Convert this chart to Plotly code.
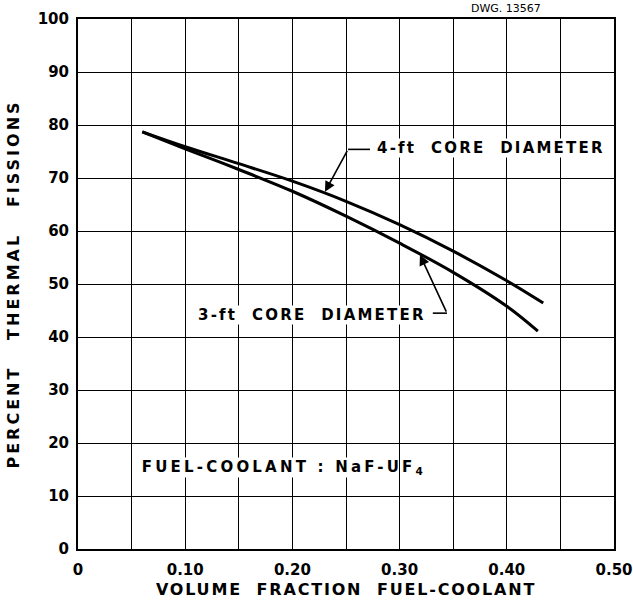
import plotly.graph_objects as go

# ---- data ----
x_4ft = [0.06, 0.10, 0.15, 0.20, 0.25, 0.30, 0.35, 0.40, 0.434]
y_4ft = [78.7, 75.9, 72.7, 69.4, 65.6, 61.2, 56.2, 50.6, 46.4]
x_3ft = [0.06, 0.10, 0.15, 0.20, 0.25, 0.30, 0.35, 0.40, 0.429]
y_3ft = [78.7, 75.5, 71.6, 67.5, 62.8, 57.7, 52.2, 45.8, 41.1]

x_tickvals = [0, 0.1, 0.2, 0.3, 0.4, 0.5]
x_ticktext = ["0", "0.10", "0.20", "0.30", "0.40", "0.50"]
y_tickvals = [0, 10, 20, 30, 40, 50, 60, 70, 80, 90, 100]
y_ticktext = ["0", "10", "20", "30", "40", "50", "60", "70", "80", "90", "100"]

NB = "\u00a0"
FONT = "DejaVu Sans"

fig = go.Figure()
fig.add_trace(go.Scatter(x=x_4ft, y=y_4ft, mode="lines", line=dict(color="black", width=3, shape="spline"),
                         name="4-ft", showlegend=False, hoverinfo="skip"))
fig.add_trace(go.Scatter(x=x_3ft, y=y_3ft, mode="lines", line=dict(color="black", width=3, shape="spline"),
                         name="3-ft", showlegend=False, hoverinfo="skip"))

axis_common = dict(showline=True, linecolor="black", linewidth=2, mirror=True, automargin=False,
                   showgrid=True, gridcolor="black", gridwidth=1.3, zeroline=False,
                   ticks="", tickfont=dict(family=FONT, size=15, color="black", weight="bold"))

fig.update_xaxes(range=[0, 0.5], tickmode="array", tickvals=x_tickvals, ticktext=x_ticktext,
                 minor=dict(dtick=0.05, showgrid=True, gridcolor="black", gridwidth=1.3),
                 ticklabelstandoff=6,
                 title=dict(text="VOLUME" + NB * 2 + "FRACTION" + NB * 2 + "FUEL-COOLANT",
                            font=dict(family=FONT, size=16, color="black", weight="bold"), standoff=6),
                 **axis_common)
fig.update_yaxes(range=[0, 100], tickmode="array", tickvals=y_tickvals, ticktext=y_ticktext,
                 ticklabelstandoff=4,
                 title=dict(text="PERCENT" + NB * 3 + "THERMAL" + NB * 3 + "FISSIONS",
                            font=dict(family=FONT, size=16, color="black", weight="bold"), standoff=14),
                 **axis_common)

ann_font = dict(family=FONT, size=15, color="black", weight="bold")
annotations = [
    dict(x=0.385, y=75.6, xref="x", yref="y", text="4-ft" + NB * 2 + "CORE" + NB * 2 + "DIAMETER",
         showarrow=False, font=ann_font, bgcolor="white", borderpad=0),
    dict(x=0.218, y=44.2, xref="x", yref="y", text="3-ft" + NB * 2 + "CORE" + NB * 2 + "DIAMETER",
         showarrow=False, font=ann_font, bgcolor="white", borderpad=0),
    dict(x=0.192, y=15.3, xref="x", yref="y", text="FUEL-COOLANT" + NB + ":" + NB + "NaF-UF<sub>4</sub>",
         showarrow=False, font=ann_font, bgcolor="white", borderpad=0),
    dict(x=0.2304, y=67.4, ax=0.2519, ay=75.4, xref="x", yref="y", axref="x", ayref="y",
         text="", showarrow=True, arrowhead=2, arrowsize=1.3, arrowwidth=1.6, arrowcolor="black", standoff=0),
    dict(x=0.319, y=55.5, ax=0.3442, ay=44.5, xref="x", yref="y", axref="x", ayref="y",
         text="", showarrow=True, arrowhead=2, arrowsize=1.3, arrowwidth=1.6, arrowcolor="black", standoff=0),
    dict(x=0.868, y=1.0358, xref="paper", yref="paper", yanchor="top", text="DWG. 13567", showarrow=False,
         font=dict(family=FONT, size=11, color="black")),
]
fig.update_layout(annotations=annotations)

fig.add_shape(type="line", xref="x", yref="y", x0=0.2519, y0=75.4, x1=0.2724, y1=75.4,
              line=dict(color="black", width=1.6))
fig.add_shape(type="line", xref="x", yref="y", x0=0.3442, y0=44.5, x1=0.331, y1=44.5,
              line=dict(color="black", width=1.6))

fig.update_layout(width=633, height=604, margin=dict(l=78, r=19, t=19, b=55),
                  plot_bgcolor="white", paper_bgcolor="white")

post = """
document.body.style.margin = '0';
var gd = document.getElementById('{plot_id}');
var specs = [['PERCENT', '3px'], ['VOLUME', '1.8px'], ['4-ft', '2.2px'], ['3-ft', '2.2px'], ['FUEL', '3.2px']];
gd.querySelectorAll('text').forEach(function(t){
  var s = t.textContent;
  specs.forEach(function(p){ if (s.indexOf(p[0]) === 0) { t.style.letterSpacing = p[1]; } });
});
"""
fig.write_html("out.html", post_script=post, config={"displayModeBar": False})
